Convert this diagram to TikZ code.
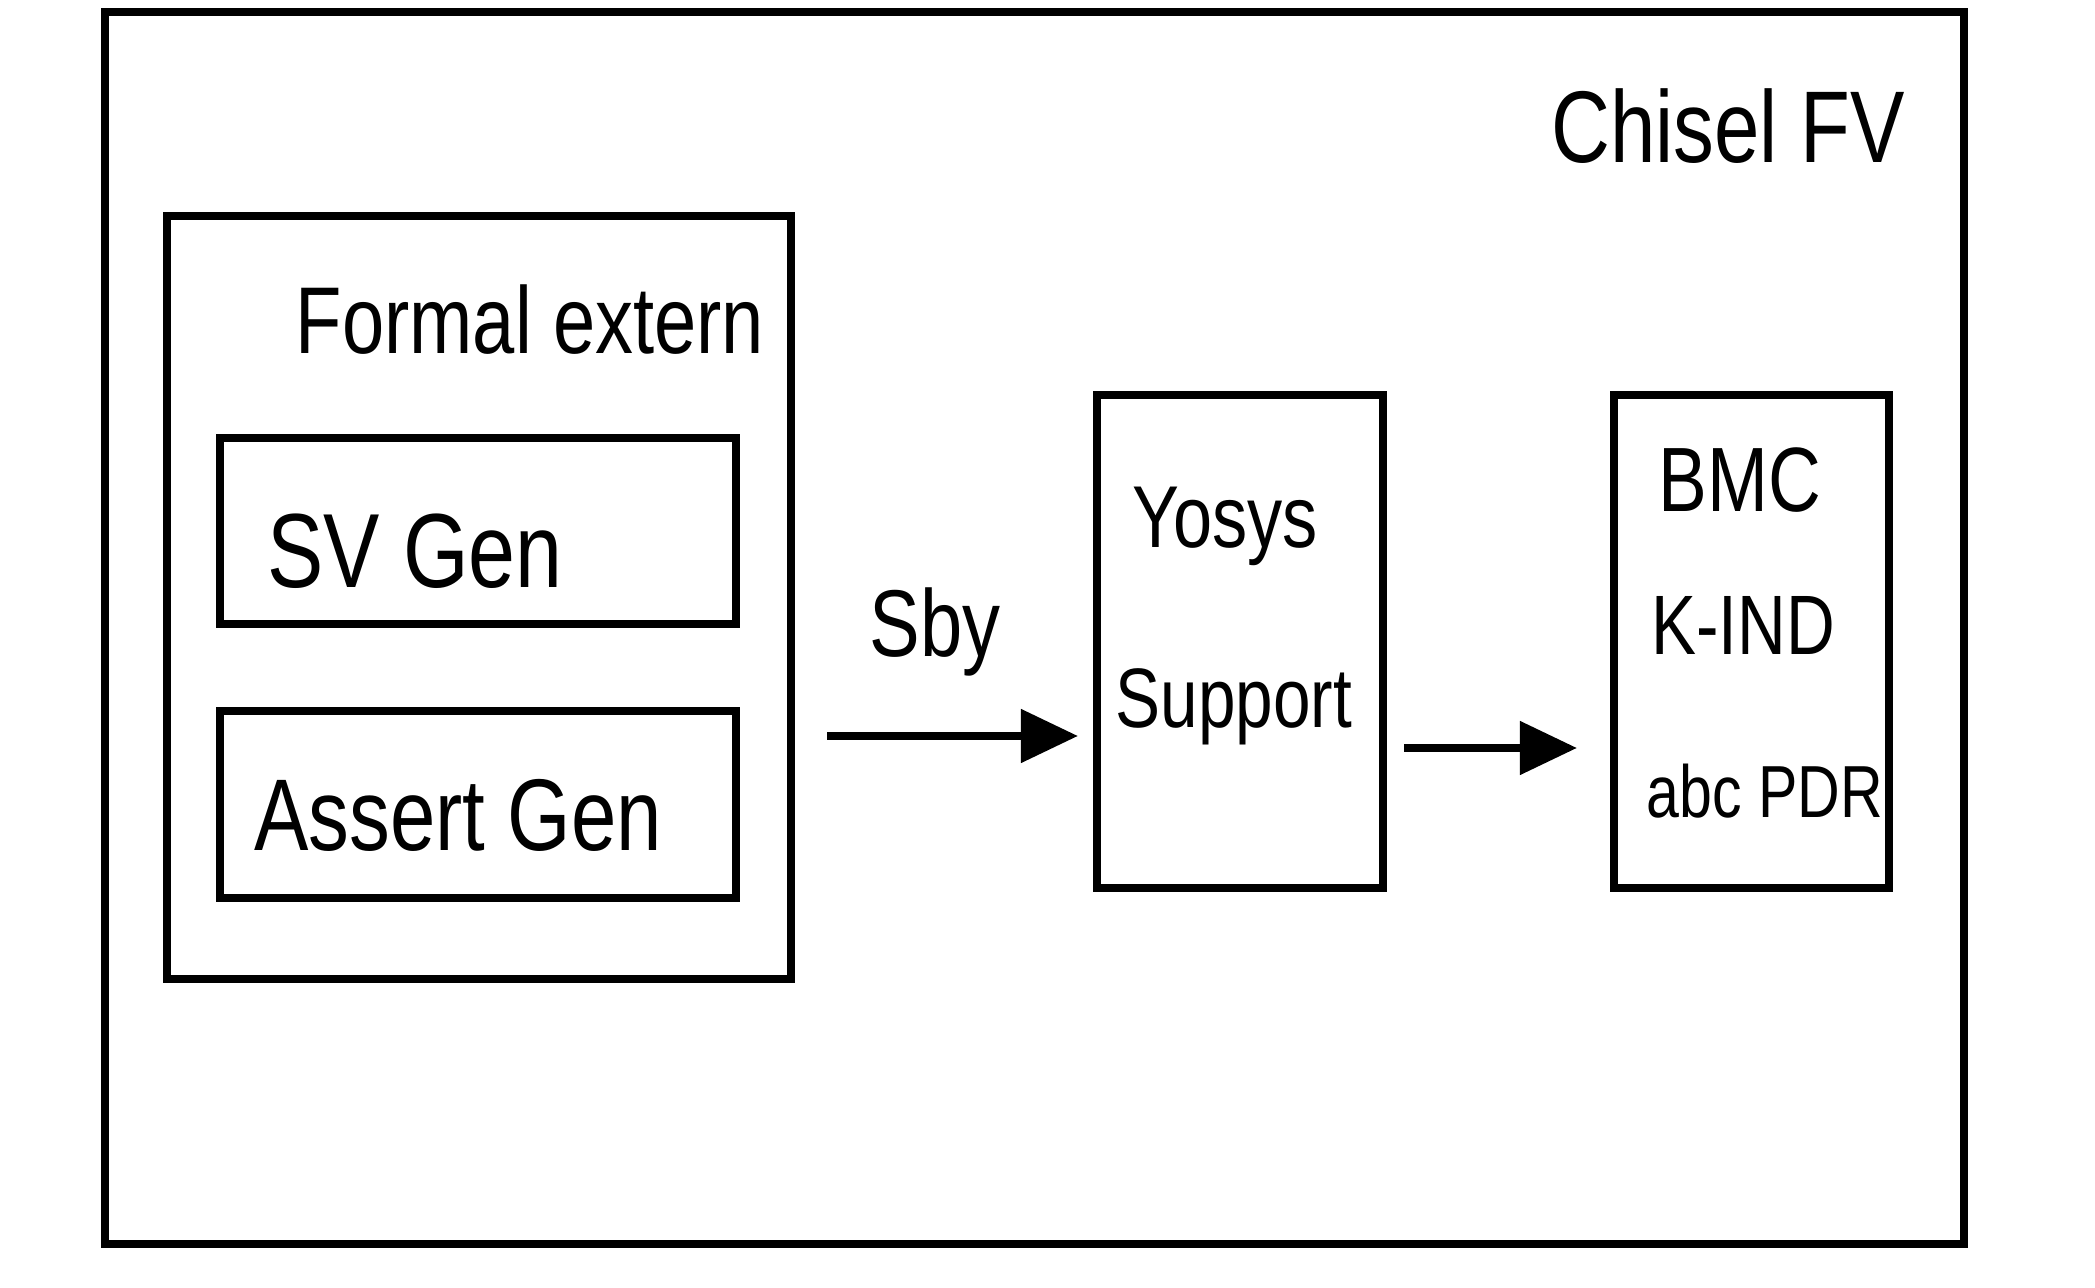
\documentclass[tikz,border=0pt]{standalone}
\usepackage{fontspec}
\setmainfont[FakeStretch=0.8]{Liberation Sans}
\usetikzlibrary{arrows.meta}
\tikzset{
  box/.style={draw, line width=2.3pt, inner sep=0pt},
  lbl/.style={anchor=base, inner sep=0pt, font=\fontsize{27}{30}\selectfont},
  small/.style={lbl, font=\fontsize{24}{28}\selectfont},
  flow/.style={line width=2.3pt, -{Triangle[length=0.57cm,width=0.52cm]}}
}
\begin{document}
\begin{tikzpicture}
\useasboundingbox (0,0) rectangle (20.95,12.87);
\node (chisel) [box, minimum width=18.59cm, minimum height=12.32cm] at (10.345,6.59) {};
\node (formal) [box, minimum width=6.24cm, minimum height=7.63cm] at (4.79,6.895) {};
\node (svgen) [box, minimum width=5.16cm, minimum height=1.86cm] at (4.78,7.56) {};
\node (assertgen) [box, minimum width=5.16cm, minimum height=1.87cm] at (4.78,4.825) {};
\node (yosys) [box, minimum width=2.86cm, minimum height=4.93cm] at (12.40,6.455) {};
\node (engines) [box, minimum width=2.75cm, minimum height=4.93cm] at (17.515,6.455) {};
\node (chiseltxt) [lbl, font=\fontsize{29}{32}\selectfont] at (17.28,11.24) {Chisel FV};
\node (formaltxt) [lbl] at (5.30,9.33) {Formal extern};
\node (svgentxt) [lbl, font=\fontsize{30}{34}\selectfont] at (4.15,6.99) {SV Gen};
\node (asserttxt) [lbl, font=\fontsize{29}{32}\selectfont] at (4.58,4.36) {Assert Gen};
\node (yosystxt) [small, font=\fontsize{25}{29}\selectfont] at (12.25,7.39) {Yosys};
\node (supporttxt) [small] at (12.34,5.59) {Support};
\node (bmc) [small, font=\fontsize{26}{30}\selectfont] at (17.40,7.75) {BMC};
\node (kind) [small] at (17.43,6.32) {K-IND};
\node (pdr) [small, font=\fontsize{21}{25}\selectfont] at (17.65,4.69) {abc PDR};
\node (sby) [lbl] at (9.35,6.30) {Sby};
\coordinate (out1) at (8.27,5.51);
\coordinate (out2) at (14.04,5.39);
\draw[flow, shorten >=0.15cm] (out1) -- (out1 -| yosys.west);
\draw[flow, shorten >=0.33cm] (out2) -- (out2 -| engines.west);
\end{tikzpicture}
\end{document}
